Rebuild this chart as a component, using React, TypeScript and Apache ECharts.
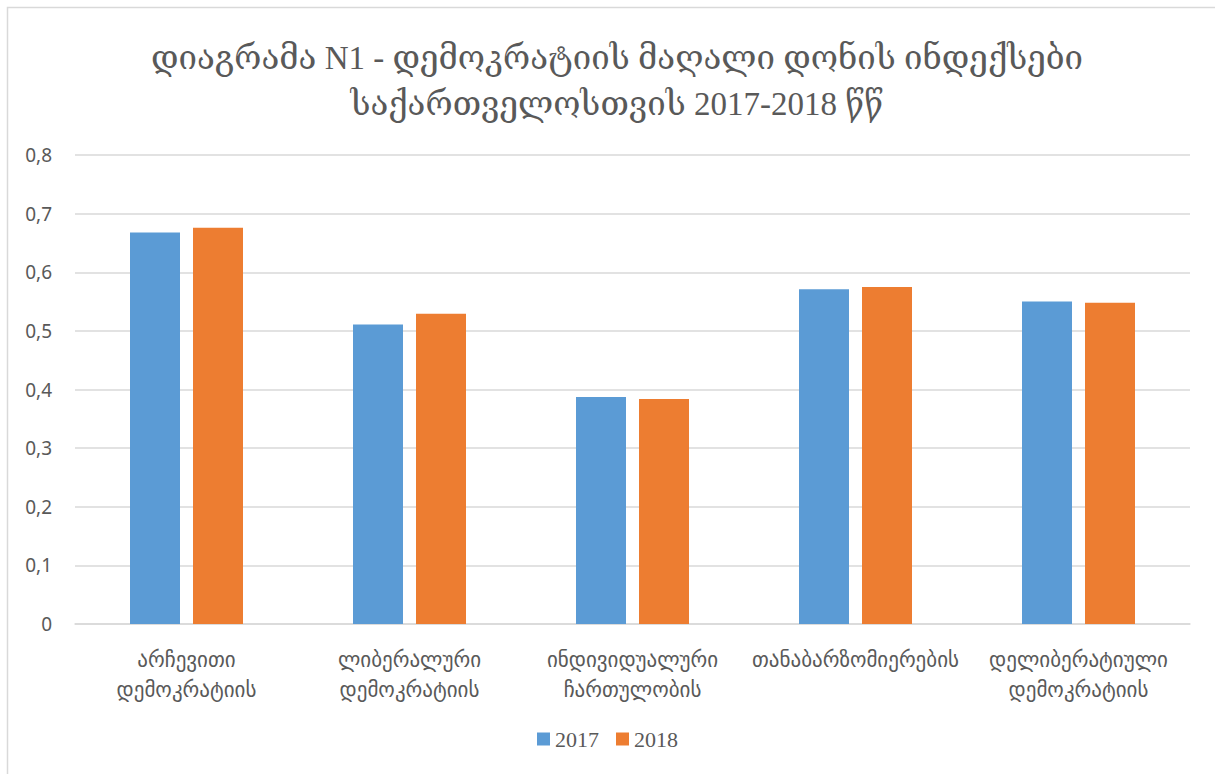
import React, { useEffect, useRef } from "react";
import * as echarts from "echarts";

const titleLines = [
  "დიაგრამა N1 - დემოკრატიის მაღალი დონის ინდექსები",
  "საქართველოსთვის 2017-2018 წწ",
];
const categories = [
  "არჩევითი\nდემოკრატიის",
  "ლიბერალური\nდემოკრატიის",
  "ინდივიდუალური\nჩართულობის",
  "თანაბარზომიერების",
  "დელიბერატიული\nდემოკრატიის",
];
const seriesNames = ["2017", "2018"];
const values2017 = [0.668, 0.511, 0.387, 0.571, 0.55];
const values2018 = [0.676, 0.529, 0.384, 0.575, 0.548];
const colors = ["#5B9BD5", "#ED7D31"];

const latinSerif = '"Liberation Serif", "DejaVu Serif", serif';
const textSans = '"Noto Sans", "DejaVu Sans", sans-serif';

export default function App() {
  const ref = useRef<HTMLDivElement>(null);
  useEffect(() => {
    if (!ref.current) return;
    const chart = echarts.init(ref.current, null, { renderer: "svg" });
    chart.setOption({
      animation: false,
      backgroundColor: "#ffffff",
      graphic: [
        {
          type: "rect",
          shape: { x: 7.5, y: 7.5, width: 1400, height: 1000 },
          style: { fill: "none", stroke: "#D9D9D9", lineWidth: 1.5 },
          silent: true,
        },
      ],
      title: {
        text: titleLines.join("\n"),
        left: 612,
        textAlign: "center",
        top: 30,
        textStyle: {
          fontFamily: latinSerif,
          fontSize: 33,
          fontWeight: "normal",
          color: "#595959",
          lineHeight: 46,
        },
      },
      legend: {
        data: seriesNames,
        bottom: 19,
        left: "center",
        itemWidth: 13,
        itemHeight: 13,
        itemGap: 17,
        icon: "rect",
        textStyle: { fontFamily: latinSerif, fontSize: 22, color: "#595959" },
      },
      grid: { left: 75, right: 25, top: 155, bottom: 150, containLabel: false },
      xAxis: {
        type: "category",
        data: categories,
        axisLine: { show: true, lineStyle: { color: "#D9D9D9", width: 1.5 } },
        axisTick: { show: false },
        axisLabel: {
          color: "#595959",
          fontFamily: textSans,
          fontSize: 21,
          lineHeight: 30,
          margin: 20,
          interval: 0,
        },
      },
      yAxis: {
        type: "value",
        min: 0,
        max: 0.8,
        interval: 0.1,
        axisLine: { show: false },
        axisTick: { show: false },
        splitLine: { lineStyle: { color: "#D9D9D9", width: 1.5 } },
        axisLabel: {
          color: "#595959",
          fontFamily: textSans,
          fontSize: 19,
          margin: 23,
          formatter: (v: number) => (v === 0 ? "0" : v.toFixed(1).replace(".", ",")),
        },
      },
      series: [
        {
          name: seriesNames[0],
          type: "bar",
          data: values2017,
          barWidth: 50,
          barGap: "26%",
          itemStyle: { color: colors[0] },
        },
        {
          name: seriesNames[1],
          type: "bar",
          data: values2018,
          barWidth: 50,
          barGap: "26%",
          itemStyle: { color: colors[1] },
        },
      ],
    });
    return () => chart.dispose();
  }, []);
  return (
    <div
      ref={ref}
      style={{ position: "absolute", left: 0, top: 0, width: 1215, height: 774 }}
    />
  );
}
